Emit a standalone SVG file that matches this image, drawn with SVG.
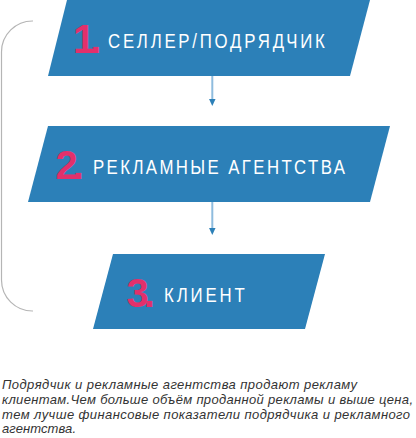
<svg xmlns="http://www.w3.org/2000/svg" width="416" height="438" viewBox="0 0 416 438">
<defs>
<style>
.box{fill:#2c80b8}
.num{font-family:"Liberation Sans",Arial,sans-serif;font-weight:bold;font-size:40px;fill:#e2306b;letter-spacing:-5px}
.lbl{font-family:"Liberation Sans",Arial,sans-serif;font-size:21px;fill:#ffffff}
.cap{font-family:"Liberation Sans",Arial,sans-serif;font-style:italic;font-size:13px;fill:#333333}
.conn{stroke:#8fbcde;stroke-width:2;fill:none}
.bracket{stroke:#b5b5b5;stroke-width:1.2;fill:none}
</style>
<marker id="ah" markerWidth="8" markerHeight="7" refX="0" refY="3.25" orient="auto" markerUnits="userSpaceOnUse" viewBox="0 0 8 7">
<path d="M0,0 L7,3.25 L0,6.5 Z" fill="#2c80b8"/>
</marker>
</defs>
<rect width="416" height="438" fill="#ffffff"/>
<path class="bracket" d="M33,21 A31,31 0 0 0 1.5,52 L1.5,280 A31,31 0 0 0 33,311"/>
<g id="connectors">
<line class="conn" x1="212.3" y1="76" x2="212.3" y2="99" marker-end="url(#ah)"/>
<line class="conn" x1="212.3" y1="202" x2="212.3" y2="228" marker-end="url(#ah)"/>
</g>
<g id="node1">
<polygon class="box" points="67,0 370,0 350,76 48,76"/>
<text class="num" x="73" y="53">1.</text>
<text class="lbl" transform="translate(108,48) scale(0.8,1)" x="0" y="0" textLength="271" lengthAdjust="spacing">СЕЛЛЕР/ПОДРЯДЧИК</text>
</g>
<g id="node2">
<polygon class="box" points="48,126 390,126 370,202 28,202"/>
<text class="num" x="55.5" y="179">2.</text>
<text class="lbl" transform="translate(93,174) scale(0.8,1)" x="0" y="0" textLength="315" lengthAdjust="spacing">РЕКЛАМНЫЕ АГЕНТСТВА</text>
</g>
<g id="node3">
<polygon class="box" points="113,254 325,254 305,329 93,329"/>
<text class="num" x="126.5" y="307">3.</text>
<text class="lbl" transform="translate(164,302) scale(0.8,1)" x="0" y="0" textLength="101" lengthAdjust="spacing">КЛИЕНТ</text>
</g>
<g id="caption">
<text class="cap" x="2" y="389" textLength="355" lengthAdjust="spacing">Подрядчик и рекламные агентства продают рекламу</text>
<text class="cap" x="2" y="404" textLength="411" lengthAdjust="spacing">клиентам.Чем больше объём проданной рекламы и выше цена,</text>
<text class="cap" x="2" y="418.5" textLength="408" lengthAdjust="spacing">тем лучше финансовые показатели подрядчика и рекламного</text>
<text class="cap" x="2" y="433" textLength="74" lengthAdjust="spacing">агентства.</text>
</g>
</svg>
